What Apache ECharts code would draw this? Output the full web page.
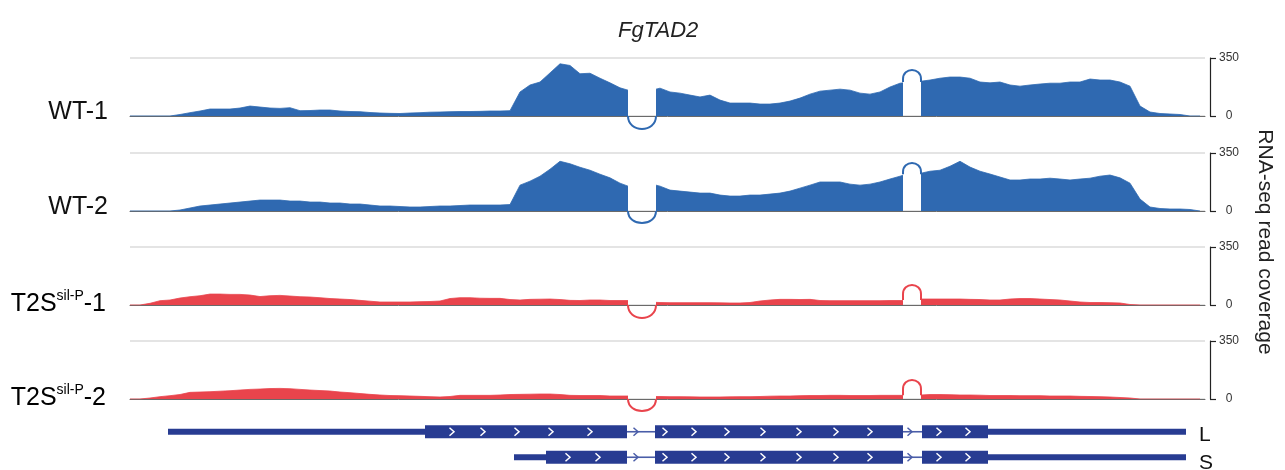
<!DOCTYPE html>
<html>
<head>
<meta charset="utf-8">
<title>FgTAD2</title>
<script src="https://cdn.jsdelivr.net/npm/echarts@6.0.0/dist/echarts.min.js"></script>
<style>
html,body{margin:0;padding:0;background:#fff;}
#chart{width:1285px;height:470px;}
</style>
</head>
<body>
<div id="chart"></div>
<script>
// positions along the locus (shared by the four tracks), null = intron gap
var pos = [0,10,20,30,40,50,60,70,80,90,
    100,110,120,130,140,150,160,170,180,190,
    200,210,220,230,240,250,260,270,280,290,
    300,310,320,330,340,350,360,370,380,390,
    400,410,420,430,440,450,460,470,480,490,
    498,510,526,
    530,540,550,560,570,580,590,600,610,620,630,640,650,660,670,680,690,700,710,720,730,740,750,760,770,
    773,782,791,
    800,810,820,830,840,850,860,870,880,890,900,910,920,930,940,950,960,970,980,990,1000,1010,1020,1030,1040,1050,1060,1070];

var wt1 = [0,0,0,0,0,9,20,30,42,42,
    42,48,60,54,48,46,50,32,33,36,
    36,30,27,26,21,18,16,15,18,20,
    23,24,26,27,27,28,30,30,32,145,
    187,205,260,315,305,255,258,228,200,170,
    156,null,162,
    168,145,138,126,115,126,96,78,78,78,72,72,78,90,108,132,150,156,162,156,138,132,145,175,198,
    200,null,210,
    217,228,235,235,228,205,200,205,187,180,187,193,198,198,205,205,223,217,217,205,180,60,24,15,12,9,0,0];

var wt2 = [0,0,0,0,0,6,18,30,36,42,
    48,54,60,66,66,66,60,60,54,54,
    48,48,42,42,36,30,30,27,24,24,
    27,30,30,33,36,36,36,36,39,156,
    180,210,252,300,285,264,246,222,200,168,
    150,null,156,
    150,126,120,114,108,108,96,90,90,96,96,102,108,120,138,156,175,175,175,162,156,162,175,193,210,
    216,null,228,
    240,246,270,300,265,240,223,205,187,187,193,193,198,193,187,193,198,210,217,200,168,72,24,15,12,12,9,0];

var t2s1 = [0,0,10,26,30,42,50,56,66,66,
    64,64,60,51,56,58,54,50,48,44,
    39,36,33,28,23,18,18,18,18,20,
    21,24,39,44,44,41,40,40,33,30,
    34,35,36,33,28,27,30,30,27,27,
    27,null,16,
    15,14,14,14,14,14,13,12,12,15,24,30,34,34,33,34,27,26,26,26,26,26,26,27,27,
    27,null,36,
    36,36,36,36,34,33,30,30,36,39,39,36,33,30,24,18,15,15,14,12,3,0,0,0,0,0,0,0];

var t2s2 = [0,0,6,14,20,27,40,42,44,47,
    50,54,58,60,63,64,62,58,54,51,
    48,42,38,33,28,24,21,20,18,16,
    14,12,15,22,22,22,22,24,27,28,
    29,30,30,27,22,21,21,21,18,18,
    18,null,15,
    15,14,14,13,12,12,12,13,14,14,15,17,18,18,20,21,21,22,22,21,21,21,22,22,22,
    22,null,24,
    27,27,26,24,24,23,21,21,21,20,20,20,18,18,18,16,15,14,12,9,6,0,0,0,0,0,0,0];

// junction arcs: [start, end, leg level, apex level]
var wt1Arcs = [[498,526,0,-78],[773,791,205,278]];
var wt2Arcs = [[498,526,0,-72],[773,791,222,290]];
var t2s1Arcs = [[498,526,0,-78],[773,791,30,120]];
var t2s2Arcs = [[498,526,0,-72],[773,791,22,115]];

var yTicks = [0, 350];

// gene models: [start, end, part]
var geneL = [[38,295,'utr'],[295,497,'exon'],[497,525,'intron'],[525,773,'exon'],[773,792,'intron'],[792,858,'exon'],[858,1056,'utr']];
var geneS = [[384,416,'utr'],[416,497,'exon'],[497,525,'intron'],[525,773,'exon'],[773,792,'intron'],[792,858,'exon'],[858,1056,'utr']];
var chevL = [322,353,387,421,460,535,564,597,633,669,706,740,809,838];
var chevS = [438,468,535,564,597,633,669,706,740,809,838];
var intronArrows = [506,780];

var BLUE = '#2f69b1', RED = '#e9444c', NAVY = '#283c92';
var FONT = '"Liberation Sans", Arial, sans-serif';

var tracks = [
    {data: wt1, arcs: wt1Arcs, color: BLUE, top: 58},
    {data: wt2, arcs: wt2Arcs, color: BLUE, top: 153},
    {data: t2s1, arcs: t2s1Arcs, color: RED, top: 247},
    {data: t2s2, arcs: t2s2Arcs, color: RED, top: 341}
];

function arcRender(color) {
    return function (params, api) {
        var x1 = api.value(0), x2 = api.value(1), side = api.value(2), apex = api.value(3);
        var p1 = api.coord([x1, side]), p2 = api.coord([x2, side]), pa = api.coord([x1, apex]);
        var r = (p2[0] - p1[0]) / 2;
        var dir = pa[1] > p1[1] ? 1 : -1;
        var ry = Math.min(r, Math.abs(pa[1] - p1[1]));
        var yc = pa[1] - dir * ry;
        var k = dir * ry * 4 / 3;
        var d = 'M' + p1[0] + ' ' + p1[1] + ' L' + p1[0] + ' ' + yc +
            ' C' + p1[0] + ' ' + (yc + k) + ' ' + p2[0] + ' ' + (yc + k) + ' ' + p2[0] + ' ' + yc +
            ' L' + p2[0] + ' ' + p1[1];
        return {type: 'path', shape: {pathData: d}, style: {fill: 'none', stroke: color, lineWidth: 2}};
    };
}

var grids = [], xAxes = [], yAxes = [], series = [];
tracks.forEach(function (t, i) {
    grids.push({left: 130, right: 80, top: t.top, height: 58});
    xAxes.push({
        gridIndex: i, type: 'value', min: 0, max: 1075,
        axisLine: {lineStyle: {color: '#6a6a6a', width: 1}},
        axisTick: {show: false}, axisLabel: {show: false}, splitLine: {show: false}
    });
    yAxes.push({
        gridIndex: i, type: 'value', min: yTicks[0], max: yTicks[1], interval: yTicks[1] - yTicks[0],
        position: 'right', offset: 5,
        axisLine: {show: true, onZero: false, lineStyle: {color: '#222', width: 1.2}},
        axisTick: {show: true, length: 6, lineStyle: {color: '#222', width: 1.2}},
        axisLabel: {fontSize: 12, color: '#333', fontFamily: FONT, align: 'center', margin: 19},
        splitLine: {show: true, lineStyle: {color: '#e4e4e4', width: 2}}
    });
    series.push({
        type: 'line', xAxisIndex: i, yAxisIndex: i,
        data: pos.map(function (p, j) { return [p, t.data[j] == null ? '-' : t.data[j]]; }),
        symbol: 'none', connectNulls: false,
        lineStyle: {color: t.color, width: 0.8},
        areaStyle: {color: t.color, opacity: 1},
        z: 2
    });
    series.push({
        type: 'custom', xAxisIndex: i, yAxisIndex: i,
        data: t.arcs, renderItem: arcRender(t.color), clip: false, z: 3
    });
});

// gene model
grids.push({left: 130, right: 80, top: 419, height: 60});
xAxes.push({gridIndex: 4, type: 'value', min: 0, max: 1075, show: false});
yAxes.push({gridIndex: 4, type: 'value', min: 0, max: 2, show: false});

var partCode = {utr: 0, exon: 1, intron: 2};
var geneData = [];
geneL.forEach(function (g) { geneData.push([g[0], g[1], 1.5, partCode[g[2]]]); });
geneS.forEach(function (g) { geneData.push([g[0], g[1], 0.5, partCode[g[2]]]); });

series.push({
    type: 'custom', xAxisIndex: 4, yAxisIndex: 4, data: geneData, clip: false,
    renderItem: function (params, api) {
        var a = api.coord([api.value(0), api.value(2)]);
        var b = api.coord([api.value(1), api.value(2)]);
        var kind = api.value(3);
        var h = kind === 1 ? 13 : (kind === 0 ? 6 : 1.6);
        var col = kind === 2 ? '#4a5da8' : NAVY;
        return {type: 'rect', shape: {x: a[0], y: a[1] - h / 2, width: b[0] - a[0], height: h}, style: {fill: col}};
    }
});

var chevData = [];
chevL.forEach(function (c) { chevData.push([c, 1.5, 0]); });
chevS.forEach(function (c) { chevData.push([c, 0.5, 0]); });
intronArrows.forEach(function (c) { chevData.push([c, 1.5, 1]); chevData.push([c, 0.5, 1]); });

series.push({
    type: 'custom', xAxisIndex: 4, yAxisIndex: 4, data: chevData, clip: false, z: 4,
    renderItem: function (params, api) {
        var p = api.coord([api.value(0), api.value(1)]);
        var onIntron = api.value(2) === 1;
        return {
            type: 'polyline',
            shape: {points: [[p[0] - 2.5, p[1] - 4], [p[0] + 2, p[1]], [p[0] - 2.5, p[1] + 4]]},
            style: {fill: 'none', stroke: onIntron ? '#4a5da8' : '#fff', lineWidth: 1.5}
        };
    }
});

function label(x, y, text) {
    return {type: 'text', x: x, y: y, style: {text: text, font: '25px ' + FONT, fill: '#111', align: 'right', verticalAlign: 'middle'}};
}
function supLabel(x, y, tail) {
    return {
        type: 'text', x: x, y: y,
        style: {
            text: '{a|T2S}{s|sil-P}{a|' + tail + '}', align: 'right', verticalAlign: 'middle',
            rich: {
                a: {fontSize: 25, fontFamily: FONT, color: '#111', lineHeight: 30},
                s: {fontSize: 14, fontFamily: FONT, color: '#111', lineHeight: 18, verticalAlign: 'top'}
            }
        }
    };
}

var chart = echarts.init(document.getElementById('chart'));
chart.setOption({
    animation: false,
    backgroundColor: '#fff',
    title: {
        text: 'FgTAD2', left: 613, top: 15,
        textStyle: {fontSize: 22, fontStyle: 'italic', fontWeight: 'normal', color: '#222', fontFamily: FONT}
    },
    grid: grids,
    xAxis: xAxes,
    yAxis: yAxes,
    series: series,
    graphic: [
        label(108, 112, 'WT-1'),
        label(108, 207, 'WT-2'),
        supLabel(106, 304, '-1'),
        supLabel(106, 398, '-2'),
        {type: 'text', x: 1265, y: 242, rotation: -Math.PI / 2,
            style: {text: 'RNA-seq read coverage', font: '21px ' + FONT, fill: '#222', align: 'center', verticalAlign: 'middle'}},
        {type: 'text', x: 1199, y: 435, style: {text: 'L', font: '21px ' + FONT, fill: '#111', verticalAlign: 'middle'}},
        {type: 'text', x: 1199, y: 463, style: {text: 'S', font: '21px ' + FONT, fill: '#111', verticalAlign: 'middle'}}
    ]
});
</script>
</body>
</html>
